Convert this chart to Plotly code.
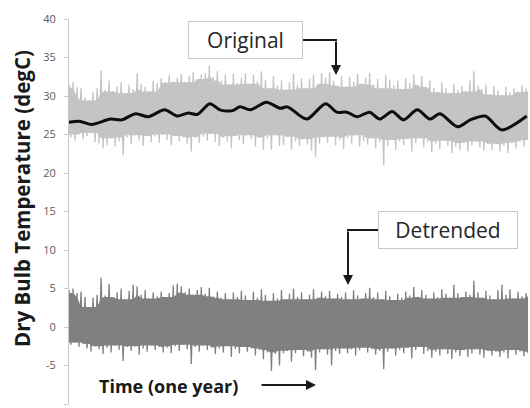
import numpy as np
import plotly.graph_objects as go

# Hourly dry bulb record summarised as per-step high/low swings (degC)
orig_high = [
    31.5, 31.8, 31.2, 31.0, 29.8, 29.4, 30.5, 31.0, 33.3, 30.8,
    32.0, 30.6, 31.2, 31.8, 30.4, 31.5, 30.9, 33.0, 31.6, 31.2,
    30.6, 32.0, 31.7, 32.3, 31.8, 32.7, 31.9, 32.4, 32.9, 31.8,
    32.6, 33.1, 32.2, 32.8, 33.0, 34.0, 32.5, 33.2, 32.0, 32.8,
    31.5, 32.9, 31.7, 32.4, 33.0, 31.6, 32.8, 31.9, 33.2, 32.1,
    31.0, 32.6, 31.4, 32.0, 30.8, 31.8, 32.9, 31.5, 32.3, 31.0,
    32.2, 32.8, 31.6, 33.0, 32.4, 33.1, 32.0, 31.4, 32.6, 31.2,
    32.5, 31.8, 32.9, 31.6, 32.4, 33.0, 31.5, 32.2, 31.0, 32.7,
    32.1, 31.4, 32.0, 30.9, 32.3, 31.7, 32.8, 31.5, 32.6, 31.2,
    32.0, 31.1, 30.5, 31.8, 31.0, 30.4, 31.6, 30.8, 31.3, 30.6,
    32.0, 33.2, 31.4, 30.9, 31.5, 30.2, 31.3, 30.7, 30.1, 31.2,
    30.5, 31.0, 30.6, 31.4, 31.0,
]
orig_low = [
    24.6, 24.2, 25.0, 24.4, 24.8, 25.2, 24.0, 23.8, 23.2, 23.6,
    24.5, 23.4, 24.1, 22.3, 24.6, 23.7, 24.9, 24.2, 23.5, 24.8,
    24.0, 24.7, 23.9, 25.0, 24.3, 23.6, 24.8, 24.1, 24.6, 23.8,
    22.8, 24.5, 23.9, 24.7, 24.2, 25.1, 24.0, 23.5, 24.6, 24.1,
    23.2, 24.8, 24.3, 23.7, 24.9, 24.4, 23.4, 24.6, 23.0, 24.5,
    23.0, 24.9, 23.5, 23.6, 24.7, 23.0, 24.1, 23.5, 24.4, 23.7,
    22.9, 22.1, 23.8, 24.6, 23.9, 24.7, 23.6, 24.3, 23.1, 24.5,
    23.8, 24.9, 23.4, 24.2, 23.7, 24.5, 23.2, 24.0, 21.0, 23.5,
    24.3, 23.0, 24.1, 23.6, 24.4, 22.8, 23.9, 24.5, 23.3, 24.0,
    22.7, 23.8, 23.1, 24.2, 23.5, 22.6, 23.4, 23.0, 23.9, 22.8,
    23.6, 24.1, 23.3, 22.9, 23.8, 23.0, 23.7, 22.8, 23.5, 22.6,
    23.9, 23.2, 24.0, 23.4, 24.3,
]
detr_high = [
    4.8, 5.0, 4.4, 4.6, 3.9, 2.6, 3.8, 4.2, 6.4, 4.1,
    5.6, 3.9, 4.5, 5.0, 3.6, 4.7, 5.5, 5.3, 4.2, 4.8,
    3.7, 4.5, 4.0, 4.6, 3.9, 4.4, 5.4, 5.6, 5.3, 4.5,
    5.0, 4.2, 4.8, 5.2, 4.3, 5.1, 4.0, 4.6, 3.8, 4.4,
    3.6, 4.5, 3.9, 4.7, 4.1, 3.5, 4.6, 3.8, 4.9, 4.2,
    3.4, 4.4, 3.7, 4.8, 3.6, 4.3, 5.0, 3.9, 4.5, 3.6,
    4.2, 4.9, 3.8, 4.6, 4.0, 4.7, 3.7, 4.3, 3.9, 4.5,
    3.6, 4.8, 4.1, 3.7, 4.4, 5.1, 3.9, 4.5, 3.6, 4.7,
    4.0, 3.5, 4.3, 3.8, 4.6, 4.1, 5.2, 3.9, 4.8, 4.2,
    3.7, 4.5, 3.9, 4.9, 4.3, 3.8, 5.5, 4.4, 3.9, 4.6,
    4.2, 6.0, 4.5, 3.8, 4.7, 4.1, 3.6, 4.8, 5.5, 4.2,
    4.9, 3.7, 4.6, 4.0, 4.4,
]
detr_low = [
    -2.3, -2.0, -2.6, -2.2, -2.8, -3.2, -2.5, -2.9, -3.5, -2.7,
    -3.3, -2.4, -3.0, -4.4, -2.6, -3.1, -2.5, -3.6, -2.8, -3.2,
    -2.4, -3.0, -2.6, -3.3, -2.7, -3.4, -2.5, -3.1, -2.3, -2.9,
    -4.8, -2.6, -3.2, -2.4, -3.0, -2.7, -3.5, -2.8, -3.3, -2.5,
    -3.9, -2.9, -3.4, -2.6, -3.2, -2.8, -3.7, -3.0, -4.2, -3.3,
    -5.7, -3.5, -5.0, -3.4, -3.1, -4.5, -3.4, -3.0, -3.8, -3.2,
    -4.0, -5.6, -3.3, -2.9, -3.6, -5.0, -3.1, -3.5, -2.8, -3.4,
    -2.9, -3.7, -3.0, -2.7, -3.3, -2.9, -3.6, -3.1, -5.5, -3.2,
    -2.8, -3.7, -3.0, -3.4, -2.7, -4.1, -3.0, -2.6, -3.5, -3.1,
    -4.0, -3.2, -3.7, -2.9, -3.5, -4.2, -3.3, -3.8, -3.0, -3.9,
    -3.4, -2.9, -3.6, -4.0, -3.1, -3.7, -3.2, -3.9, -3.3, -4.1,
    -3.0, -3.6, -3.2, -3.8, -3.4,
]

# Smoothed trend of the original record
trend_day = [0, 9, 18, 33, 42, 53, 63, 76, 86, 95, 102, 112, 120, 130, 136,
             144, 157, 168, 173, 176, 189, 204, 213, 221, 229, 239, 247, 257,
             266, 277, 287, 295, 309, 319, 331, 344, 364]
trend_temp = [26.6, 26.7, 26.3, 27.0, 26.9, 27.7, 27.3, 28.2, 27.4, 27.8, 27.6,
              29.0, 28.2, 28.1, 28.6, 28.2, 29.2, 28.4, 28.6, 28.4, 27.0, 29.0,
              27.9, 27.9, 27.3, 27.9, 27.0, 28.0, 26.9, 28.2, 27.0, 27.7, 26.0,
              26.9, 27.4, 25.6, 27.4]

y_ticks = [-10, -5, 0, 5, 10, 15, 20, 25, 30, 35, 40]
y_tick_text = ["-10", "-5", "0", "5", "10", "15", "20", "25", "30", "35", "40"]
DAYS = 365

W, H = 530, 408
ML, MR, MT, MB = 69, 2, 19, 4
PW, PH = W - ML - MR, H - MT - MB


def fx(px):
    return (px - ML) / PW


def fy(py):
    return (H - MB - py) / PH


def swing(high, low):
    """Alternate each step's high and low so the line sweeps the full range."""
    vals = np.empty(2 * len(high))
    vals[0::2] = high
    vals[1::2] = low
    days = np.linspace(0, DAYS, len(vals))
    return days, vals


def core(high, low, k=2):
    """Range shared by each step and its k neighbours on either side."""
    h = np.pad(np.asarray(high), k, mode="edge")
    lo = np.pad(np.asarray(low), k, mode="edge")
    n = len(high)
    top = np.min([h[j:j + n] for j in range(2 * k + 1)], axis=0)
    bot = np.max([lo[j:j + n] for j in range(2 * k + 1)], axis=0)
    days = np.linspace(0, DAYS, n)
    return days, top, bot


def add_band(fig, high, low, color):
    d, top, bot = core(high, low)
    fig.add_trace(go.Scatter(x=d, y=bot, mode="lines", line=dict(width=0, color=color),
                             hoverinfo="skip", showlegend=False))
    fig.add_trace(go.Scatter(x=d, y=top, mode="lines", line=dict(width=0, color=color),
                             fill="tonexty", fillcolor=color,
                             hoverinfo="skip", showlegend=False))
    d, v = swing(high, low)
    fig.add_trace(go.Scatter(x=d, y=v, mode="lines", line=dict(color=color, width=1.3),
                             hoverinfo="skip", showlegend=False))


fig = go.Figure()
add_band(fig, orig_high, orig_low, "#c4c4c4")
add_band(fig, detr_high, detr_low, "#808080")
fig.add_trace(go.Scatter(x=trend_day, y=trend_temp, mode="lines",
                         line=dict(color="#0d0d0d", width=3, shape="spline",
                                   smoothing=0.8),
                         hoverinfo="skip", showlegend=False))

font_main = "Open Sans, Liberation Sans, sans-serif"
ink = "#1a1a1a"

annotations = [
    dict(text="<b>Dry Bulb Temperature (degC)</b>", textangle=-90,
         x=fx(22), y=fy(199), xref="paper", yref="paper",
         xanchor="center", yanchor="middle", showarrow=False,
         font=dict(family=font_main, size=20.5, color=ink)),
    dict(text="Original", x=fx(245.5), y=fy(40), xref="paper", yref="paper",
         xanchor="center", yanchor="middle", showarrow=False,
         width=113, height=36, borderpad=0, borderwidth=1,
         bordercolor="#c8c8c8", bgcolor="white",
         font=dict(family=font_main, size=21, color="#262626")),
    dict(text="", x=fx(336), y=fy(75), xref="paper", yref="paper",
         ax=0, ay=-35, showarrow=True, arrowhead=2, arrowsize=1,
         arrowwidth=2, arrowcolor=ink, standoff=0),
    dict(text="Detrended", x=fx(448), y=fy(230), xref="paper", yref="paper",
         xanchor="center", yanchor="middle", showarrow=False,
         width=138, height=36, borderpad=0, borderwidth=1,
         bordercolor="#c8c8c8", bgcolor="white",
         font=dict(family=font_main, size=21, color="#262626")),
    dict(text="", x=fx(348), y=fy(285), xref="paper", yref="paper",
         ax=0, ay=-55, showarrow=True, arrowhead=2, arrowsize=1,
         arrowwidth=2, arrowcolor=ink, standoff=0),
    dict(text="<b>Time (one year)</b>", x=fx(97), y=fy(386),
         xref="paper", yref="paper", xanchor="left", yanchor="middle",
         showarrow=False, font=dict(family=font_main, size=18, color=ink)),
    dict(text="", x=fx(316), y=fy(385), xref="paper", yref="paper",
         ax=-56, ay=0, showarrow=True, arrowhead=2, arrowsize=1,
         arrowwidth=2, arrowcolor=ink, standoff=0),
]

shapes = [
    dict(type="line", xref="paper", yref="paper",
         x0=fx(303), y0=fy(40), x1=fx(337), y1=fy(40),
         line=dict(color=ink, width=2)),
    dict(type="line", xref="paper", yref="paper",
         x0=fx(378), y0=fy(230), x1=fx(347), y1=fy(230),
         line=dict(color=ink, width=2)),
]

fig.update_layout(
    width=W, height=H,
    margin=dict(l=ML, r=MR, t=MT, b=MB),
    paper_bgcolor="white", plot_bgcolor="white",
    annotations=annotations, shapes=shapes,
    xaxis=dict(range=[0, DAYS], visible=False, fixedrange=True),
    yaxis=dict(range=[-10, 40], tickvals=y_ticks, ticktext=y_tick_text,
               showgrid=False, zeroline=False, showline=True,
               linecolor="#c8c8c8", linewidth=1, ticks="outside", ticklen=4,
               tickcolor="#c8c8c8", ticklabelstandoff=6,
               tickfont=dict(family=font_main, size=11, color="#595959"),
               fixedrange=True),
)

fig.write_html("out.html", config={"displayModeBar": False})
